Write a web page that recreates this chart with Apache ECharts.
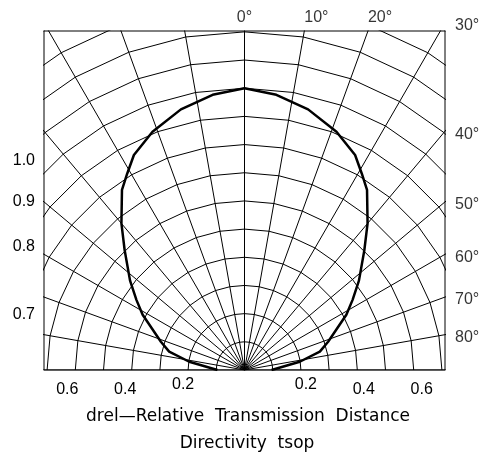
<!DOCTYPE html>
<html><head><meta charset="utf-8">
<script src="https://cdn.jsdelivr.net/npm/echarts@6/dist/echarts.min.js"></script>
<style>html,body{margin:0;padding:0;background:#fff}#c{width:485px;height:457px}</style>
</head><body><div id="c"></div>
<script>
// ---- data ----
const ringRadii = [0.1,0.2,0.3,0.4,0.5,0.6,0.7,0.8,0.9,1.0,1.1,1.2,1.3,1.4];
const spokeAngles = [-90,-80,-70,-60,-50,-40,-30,-20,-10,0,10,20,30,40,50,60,70,80,90];
const curveAngles = [0, 6.6, 13.7, 21.1, 27.2, 30.8, 34.2, 40, 45, 52, 57, 61.5, 71.3, 76.3, 81.5, 90];
const curveDrel   = [1.0, 0.983, 0.952, 0.906, 0.858, 0.812, 0.773, 0.679, 0.601, 0.515, 0.457, 0.411, 0.313, 0.275, 0.198, 0.096];
const bottomTickValues = [-0.6,-0.4,-0.2,0.2,0.4,0.6];
const leftTickValues = [0.742,0.597,0.437,0.196];
const leftTickLabels = ['1.0','0.9','0.8','0.7'];
const topAngleLabels = [0,10,20];
const sideAngleLabels = [30,40,50,60,70,80];
const xTitle = 'drel\u2014Relative  Transmission  Distance';
const chartTitle = 'Directivity  tsop';

const X_MAX = 0.711, Y_MAX = 1.203, SPOKE_LEN = 1.6;
const rad = a => a * Math.PI / 180;
const pt = (a, r) => [r * Math.sin(rad(a)), r * Math.cos(rad(a))];

const black = '#000';
const numFont = {fontFamily:'Liberation Sans', fontSize:16, color:black};
const thin = {color:black, width:1};

const series = [];
ringRadii.forEach(r => {
  series.push({type:'line', data: spokeAngles.map(a => pt(a, r)), symbol:'none', silent:true,
    lineStyle: thin, clip:true, z:2});
});
spokeAngles.forEach(a => {
  series.push({type:'line', data:[[0,0], pt(a, SPOKE_LEN)], symbol:'none', silent:true,
    lineStyle: thin, clip:true, z:2});
});
// directivity curve (symmetric about 0 deg)
const curve = [];
for (let i = curveAngles.length - 1; i > 0; i--) curve.push(pt(-curveAngles[i], curveDrel[i]));
for (let i = 0; i < curveAngles.length; i++) curve.push(pt(curveAngles[i], curveDrel[i]));
series.push({type:'line', data: curve, symbol:'none', silent:true, clip:true, z:5,
  lineStyle:{color:black, width:2.5}});

// angle labels
const labelData = [];
topAngleLabels.forEach(a => {
  labelData.push({value:[Y_MAX * Math.tan(rad(a)), Y_MAX],
    label:{show:true, position:'top', distance:5, align: a === 0 ? 'center' : 'left',
      formatter: a + '\u00b0', ...numFont}});
});
sideAngleLabels.forEach(a => {
  labelData.push({value:[X_MAX, X_MAX / Math.tan(rad(a))],
    label:{show:true, position:'right', distance:10, offset:[0,3],
      formatter: a + '\u00b0', ...numFont}});
});
series.push({type:'scatter', data: labelData, symbolSize:0, silent:true, clip:false, z:6});

const rich = {};
[['n2',[0,10,0,0]],['p2',[0,0,0,10]],['n4',[5,13,0,0]],['p4',[5,0,0,13]],['n6',[5,16,0,0]],['p6',[5,0,0,16]]]
  .forEach(([k,p]) => rich[k] = {...numFont, padding:p});

const option = {
  animation:false,
  backgroundColor:'#fff',
  title:[
    {text:xTitle, left:248, top:408, textAlign:'center', padding:0,
     textStyle:{fontFamily:'DejaVu Sans', fontSize:17, fontWeight:'normal', color:black}},
    {text:chartTitle, left:247, top:435, textAlign:'center', padding:0,
     textStyle:{fontFamily:'DejaVu Sans', fontSize:17, fontWeight:'normal', color:black}}
  ],
  grid:{left:44, right:40, top:31, bottom:87, show:true, borderColor:black, borderWidth:1,
    backgroundColor:'transparent', containLabel:false},
  xAxis:{type:'value', min:-X_MAX, max:X_MAX,
    axisLine:{show:false}, axisTick:{show:false}, splitLine:{show:false},
    axisLabel:{customValues: bottomTickValues, margin:7, ...numFont, rich,
      formatter: v => {
        const a = Math.abs(v);
        const k = (v < 0 ? 'n' : 'p') + (a < 0.3 ? '2' : a < 0.5 ? '4' : '6');
        return '{' + k + '|' + a.toFixed(1) + '}';
      }}},
  yAxis:{type:'value', min:0, max:Y_MAX,
    axisLine:{show:false}, axisTick:{show:false}, splitLine:{show:false},
    axisLabel:{customValues: leftTickValues, margin:9, ...numFont,
      formatter: v => {
        let best = 0;
        leftTickValues.forEach((t, i) => { if (Math.abs(t - v) < Math.abs(leftTickValues[best] - v)) best = i; });
        return leftTickLabels[best];
      }}},
  series
};
const chart = echarts.init(document.getElementById('c'), null, {renderer:'canvas'});
chart.setOption(option);
</script></body></html>
